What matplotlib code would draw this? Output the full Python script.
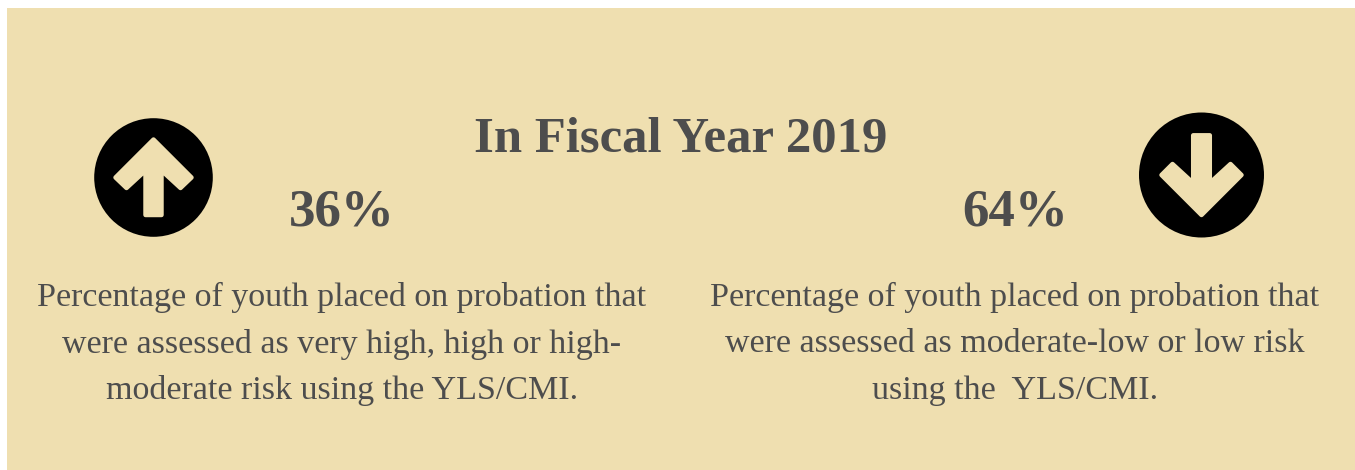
import matplotlib
matplotlib.use("Agg")
import matplotlib.pyplot as plt
from matplotlib.patches import Circle, Polygon, Rectangle

W, H = 1355, 470
TITLE = "In Fiscal Year 2019"
PERCENTS = ["36%", "64%"]
LEFT_LINES = ["Percentage of youth placed on probation that",
              "were assessed as very high, high or high-",
              "moderate risk using the YLS/CMI."]
RIGHT_LINES = ["Percentage of youth placed on probation that",
               "were assessed as moderate-low or low risk",
               "using the  YLS/CMI."]
BG = "#efdfb0"
TXT = "#4d4d4d"
FONT = "Liberation Serif"

fig = plt.figure(figsize=(W/100, H/100), dpi=100, facecolor="white")
ax = fig.add_axes([0, 0, 1, 1])
ax.set_xlim(0, W); ax.set_ylim(H, 0); ax.axis("off")
ax.add_patch(Rectangle((7, 8), W-7, H-8, fc=BG, ec="none"))

def arrow(cx, cy, r, pts):
    ax.add_patch(Circle((cx, cy), r, fc="black", ec="none"))
    ax.add_patch(Polygon([(cx+a, cy+b) for a, b in pts], closed=True, fc=BG, ec=BG,
                         lw=3.2, joinstyle="round"))

arrow(153.5, 177.5, 59.3, [(0, -38), (38, 0), (27, 10.5), (8, -7), (8, 37.5), (-8, 37.5), (-8, -7), (-27, 10.5), (-38, 0)])
arrow(1201.5, 175, 62.5, [(0, 40), (40, 0), (29, -11), (8.3, 8), (8.3, -39.7), (-8.3, -39.7), (-8.3, 8), (-29, -11), (-40, 0)])

ax.text(681, 139, TITLE, family=FONT, weight="bold", color=TXT, fontsize=36.5, ha="center", va="center")
ax.text(342, 212, PERCENTS[0], family=FONT, weight="bold", color=TXT, fontsize=38.2, ha="center", va="center")
ax.text(1015, 212, PERCENTS[1], family=FONT, weight="bold", color=TXT, fontsize=38.2, ha="center", va="center")

for cx, lines in ((342, LEFT_LINES), (1015, RIGHT_LINES)):
    for y, s in zip((297, 344, 391), lines):
        ax.text(cx, y, s, family=FONT, color=TXT, fontsize=24.5, ha="center", va="center")

fig.savefig("out.png", dpi=100, facecolor="white")
